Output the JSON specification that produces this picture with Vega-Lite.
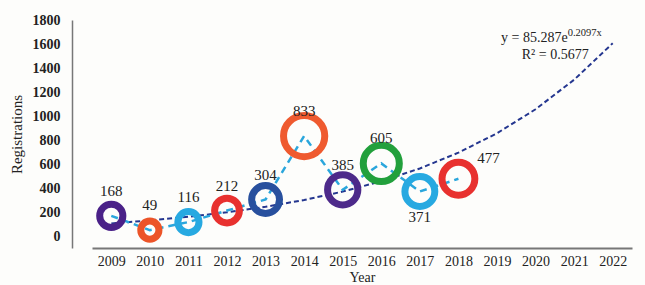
{
  "$schema": "https://vega.github.io/schema/vega-lite/v6.json",
  "width": 573,
  "height": 228,
  "autosize": "none",
  "padding": {"left": 72, "top": 20, "right": 0, "bottom": 37},
  "background": "#fdfdfb",
  "config": {
    "view": {"stroke": null},
    "font": "Liberation Serif",
    "axis": {"labelFont": "Liberation Serif", "titleFont": "Liberation Serif", "labelColor": "#222", "titleColor": "#222", "grid": false, "ticks": false}
  },
  "datasets": {
    "main": [
      {"year": "2009", "series": "data", "v": 168},
      {"year": "2010", "series": "data", "v": 49},
      {"year": "2011", "series": "data", "v": 116},
      {"year": "2012", "series": "data", "v": 212},
      {"year": "2013", "series": "data", "v": 304},
      {"year": "2014", "series": "data", "v": 833},
      {"year": "2015", "series": "data", "v": 385},
      {"year": "2016", "series": "data", "v": 605},
      {"year": "2017", "series": "data", "v": 371},
      {"year": "2018", "series": "data", "v": 477},
      {"year": "2009", "series": "trend", "v": 105.2},
      {"year": "2010", "series": "trend", "v": 129.7},
      {"year": "2011", "series": "trend", "v": 160.0},
      {"year": "2012", "series": "trend", "v": 197.3},
      {"year": "2013", "series": "trend", "v": 243.3},
      {"year": "2014", "series": "trend", "v": 300.1},
      {"year": "2015", "series": "trend", "v": 370.1},
      {"year": "2016", "series": "trend", "v": 456.5},
      {"year": "2017", "series": "trend", "v": 563.0},
      {"year": "2018", "series": "trend", "v": 694.3},
      {"year": "2019", "series": "trend", "v": 856.3},
      {"year": "2020", "series": "trend", "v": 1056.1},
      {"year": "2021", "series": "trend", "v": 1302.5},
      {"year": "2022", "series": "trend", "v": 1606.4}
    ],
    "notes": [
      {"year": "2022", "v": 1650, "label": "y = 85.287e", "kind": "main"},
      {"year": "2022", "v": 1690, "label": "0.2097x", "kind": "sup"},
      {"year": "2022", "v": 1508, "label": "R² = 0.5677", "kind": "r2"}
    ]
  },
  "data": {"name": "main"},
  "encoding": {
    "x": {
      "field": "year", "type": "ordinal", "title": "Year",
      "scale": {"type": "point", "range": [20, 560]},
      "axis": {"labelAngle": 0, "labelFontSize": 14, "titleFontSize": 14, "titleFontWeight": "normal", "domainColor": "#777", "domainWidth": 2, "labelPadding": 6, "titlePadding": 2, "labelOverlap": false}
    },
    "y": {"field": "v", "type": "quantitative", "title": "Registrations",
      "scale": {"domain": [-100, 1800], "nice": false},
      "axis": {"values": [0, 200, 400, 600, 800, 1000, 1200, 1400, 1600, 1800], "format": "d", "labelOverlap": false, "labelFontSize": 14, "labelFontWeight": "bold", "titleFontSize": 15, "titleFontWeight": "normal", "domainColor": "#777", "domainWidth": 1.5, "labelPadding": 12, "titlePadding": 8}}
  },
  "layer": [
    {
      "transform": [{"filter": "datum.series == 'trend'"}],
      "mark": {"type": "line", "color": "#24368f", "strokeWidth": 2, "strokeDash": [5, 3]}
    },
    {
      "transform": [{"filter": "datum.series == 'data'"}],
      "mark": {"type": "line", "color": "#2aa6dc", "strokeWidth": 2.5, "strokeDash": [7, 5]}
    },
    {
      "transform": [{"filter": "datum.series == 'data'"}],
      "mark": {"type": "point", "filled": false, "strokeWidth": 7, "opacity": 1},
      "encoding": {
        "size": {"field": "v", "type": "quantitative", "legend": null, "scale": {"type": "linear", "zero": false, "domain": [49, 833], "range": [330, 1700]}},
        "color": {"field": "year", "type": "nominal", "legend": null,
          "scale": {"domain": ["2009","2010","2011","2012","2013","2014","2015","2016","2017","2018"],
            "range": ["#4a2188","#ec5428","#27a9e1","#e8312f","#28509e","#ef5a2f","#4d2a8a","#22a03c","#27a9e1","#e8312f"]}}
      }
    },
    {
      "transform": [{"filter": "datum.series == 'data' && datum.year != '2017' && datum.year != '2018'"}],
      "mark": {"type": "text", "fontSize": 15, "color": "#222", "dy": -25},
      "encoding": {"text": {"field": "v"}}
    },
    {
      "transform": [{"filter": "datum.series == 'data' && datum.year == '2017'"}],
      "mark": {"type": "text", "fontSize": 15, "color": "#222", "dy": 26},
      "encoding": {"text": {"field": "v"}}
    },
    {
      "transform": [{"filter": "datum.series == 'data' && datum.year == '2018'"}],
      "mark": {"type": "text", "fontSize": 15, "color": "#222", "dy": -21, "dx": 30},
      "encoding": {"text": {"field": "v"}}
    },
    {
      "data": {"name": "notes"},
      "transform": [{"filter": "datum.kind == 'main'"}],
      "mark": {"type": "text", "fontSize": 14, "color": "#222", "align": "right", "dx": -45},
      "encoding": {"text": {"field": "label"}}
    },
    {
      "data": {"name": "notes"},
      "transform": [{"filter": "datum.kind == 'sup'"}],
      "mark": {"type": "text", "fontSize": 10.5, "color": "#222", "align": "left", "dx": -45},
      "encoding": {"text": {"field": "label"}}
    },
    {
      "data": {"name": "notes"},
      "transform": [{"filter": "datum.kind == 'r2'"}],
      "mark": {"type": "text", "fontSize": 14, "color": "#222", "align": "right", "dx": -24},
      "encoding": {"text": {"field": "label"}}
    }
  ]
}
